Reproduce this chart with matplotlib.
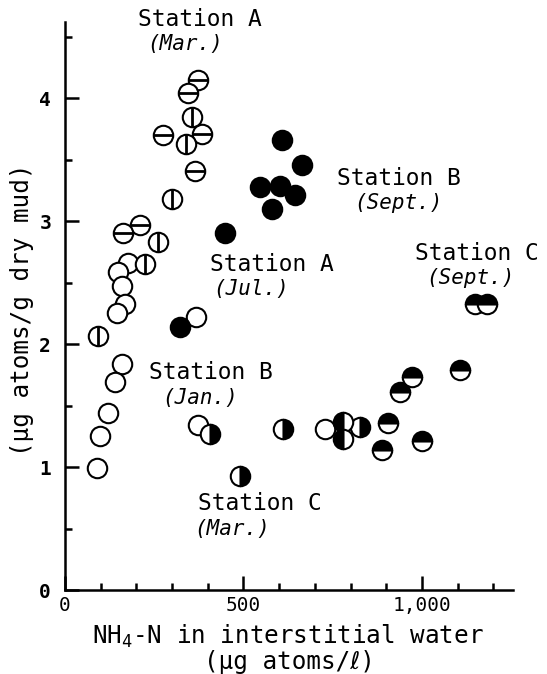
import matplotlib
matplotlib.use("Agg")
import matplotlib.pyplot as plt
from matplotlib.ticker import MultipleLocator, FixedLocator

plt.rcParams['font.family'] = ['DejaVu Sans Mono', 'DejaVu Sans']
plt.rcParams['mathtext.fontset'] = 'custom'
plt.rcParams['mathtext.rm'] = 'DejaVu Sans Mono'

# Open circles with horizontal bar
hbar_x = [373, 345, 383, 275, 364, 210, 163]
hbar_y = [4.15, 4.04, 3.71, 3.70, 3.41, 2.97, 2.90]
# Open circles with vertical bar
vbar_x = [355, 339, 299, 261, 224, 93]
vbar_y = [3.85, 3.63, 3.18, 2.83, 2.65, 2.07]
# Plain open circles
open_x = [177, 149, 159, 168, 145, 368, 159, 140, 121, 98, 89, 373, 728]
open_y = [2.66, 2.59, 2.47, 2.33, 2.25, 2.22, 1.84, 1.69, 1.44, 1.25, 0.99, 1.34, 1.31]
# Filled circles
full_x = [607, 663, 546, 602, 644, 579, 448, 322]
full_y = [3.66, 3.46, 3.28, 3.29, 3.21, 3.10, 2.90, 2.14]
# Right-half filled circles
right_x = [406, 490, 611, 826]
right_y = [1.27, 0.93, 1.31, 1.33]
# Left-half filled circles
left_x = [780, 780]
left_y = [1.37, 1.23]
# Top-half filled circles
top_x = [906, 887, 999, 971, 938, 1106, 1148, 1181]
top_y = [1.36, 1.14, 1.21, 1.73, 1.61, 1.79, 2.33, 2.33]

labels = [
    ("Station A", "(Mar.)", (378, 4.64), (336, 4.44)),
    ("Station B", "(Sept.)", (936, 3.35), (933, 3.15)),
    ("Station A", "(Jul.)", (580, 2.65), (520, 2.45)),
    ("Station B", "(Jan.)", (409, 1.77), (378, 1.56)),
    ("Station C", "(Mar.)", (546, 0.70), (468, 0.50)),
    ("Station C", "(Sept.)", (1154, 2.74), (1137, 2.54)),
]

fig = plt.figure(figsize=(5.47, 6.74), dpi=100)
ax = fig.add_axes([0.1188, 0.1246, 0.819, 0.8427])

ms = 14
mew = 1.5
common = dict(linestyle='none', marker='o', markersize=ms, markeredgewidth=mew,
              markeredgecolor='black', clip_on=False)

ax.plot(open_x, open_y, markerfacecolor='white', **common, zorder=3)
ax.plot(hbar_x, hbar_y, markerfacecolor='white', **common, zorder=3)
ax.plot(hbar_x, hbar_y, linestyle='none', marker='_', markersize=ms, markeredgewidth=2,
        color='black', zorder=4, clip_on=False)
ax.plot(vbar_x, vbar_y, markerfacecolor='white', **common, zorder=3)
ax.plot(vbar_x, vbar_y, linestyle='none', marker='|', markersize=ms, markeredgewidth=2,
        color='black', zorder=4, clip_on=False)
ax.plot(full_x, full_y, markerfacecolor='black', **common, zorder=3)
ax.plot(right_x, right_y, fillstyle='right', markerfacecolor='black',
        markerfacecoloralt='white', **common, zorder=3)
ax.plot(left_x, left_y, fillstyle='left', markerfacecolor='black',
        markerfacecoloralt='white', **common, zorder=3)
ax.plot(top_x, top_y, fillstyle='top', markerfacecolor='black',
        markerfacecoloralt='white', **common, zorder=3)

for name, month, p1, p2 in labels:
    ax.text(p1[0], p1[1], name, ha='center', va='center', fontsize=16.5, clip_on=False)
    ax.text(p2[0], p2[1], month, ha='center', va='center', fontsize=15,
            style='italic', clip_on=False)

ax.set_xlim(0, 1255)
ax.set_ylim(0, 4.62)

for s in ['top', 'right']:
    ax.spines[s].set_visible(False)
for s in ['left', 'bottom']:
    ax.spines[s].set_linewidth(1.8)

ax.yaxis.set_major_locator(FixedLocator([0, 1, 2, 3, 4]))
ax.yaxis.set_minor_locator(MultipleLocator(0.5))
ax.xaxis.set_major_locator(FixedLocator([0, 500, 1000]))
ax.xaxis.set_minor_locator(MultipleLocator(100))
ax.set_xticklabels(['0', '500', '1,000'])
ax.tick_params(axis='both', which='major', direction='in', length=10, width=1.8,
               labelsize=14)
ax.tick_params(axis='both', which='minor', direction='in', length=5, width=1.8)
ax.tick_params(axis='y', pad=10)
ax.tick_params(axis='x', pad=4)
for t in ax.get_yticklabels():
    t.set_fontweight('bold')

fig.text(288 / 547, 1 - 636 / 674, "NH$_4$-N in interstitial water",
         ha='center', va='center', fontsize=17.5)
fig.text(289 / 547, 1 - 662 / 674, "(\u03bcg atoms/\u2113)",
         ha='center', va='center', fontsize=17.5)
fig.text(22 / 547, 1 - 310 / 674, "(\u03bcg atoms/g dry mud)",
         ha='center', va='center', rotation=90, fontsize=17.5)

fig.savefig("out.png", dpi=100)
